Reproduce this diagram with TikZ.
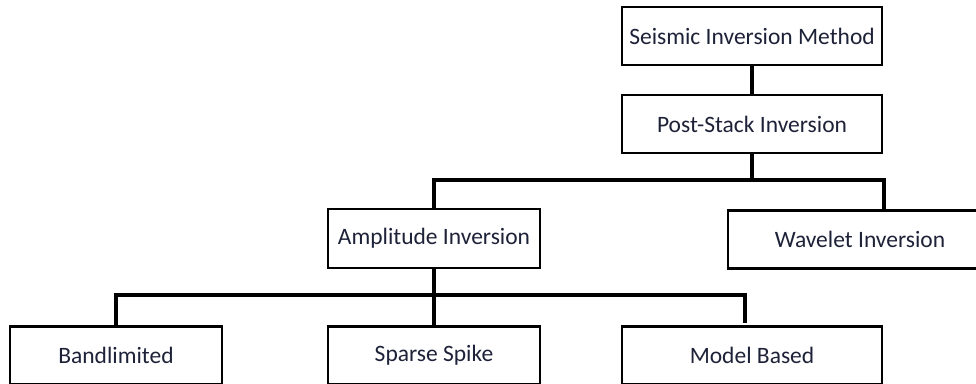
\documentclass[tikz,border=0pt]{standalone}
\usepackage{fontspec}
\setmainfont{Carlito}
\definecolor{labelink}{HTML}{1E2238}
\begin{document}
\begin{tikzpicture}[x=1pt,y=-1pt,
  box/.style={draw=black, line width=2.6pt, fill=white, rectangle,
    inner sep=0pt, font=\fontsize{23.5}{28}\selectfont, text=labelink},
  wide/.style={box, minimum width=260pt, minimum height=58pt},
  narrow/.style={box, minimum width=212pt, minimum height=59pt},
  link/.style={draw=black, line width=4pt}]
\useasboundingbox (0,0) rectangle (976,383);
\begin{scope}
\clip (0,0) rectangle (976,383);

% tree levels
\node[wide]   (sim)  at (752,36)    {Seismic Inversion Method};
\node[wide]   (psi)  at (752,124)   {Post-Stack Inversion};
\node[narrow] (amp)  at (434,238.5) {Amplitude Inversion};
\node[box, minimum width=264pt, minimum height=58pt] (wav) at (860,239.5) {Wavelet Inversion};
\node[narrow, minimum height=58pt] (band) at (116,355.5) {Bandlimited};
\node[narrow, minimum height=58pt] (spk)  at (434,355.5) {Sparse Spike};
\node[wide]   (mod)  at (752,355.5) {Model Based};

% junction points of the connectors
\coordinate (j1) at (752,180);
\coordinate (j2) at (434,295);
\coordinate (mb) at (745,323);

% connectors
\draw[link] (sim.south) -- (psi.north);
\draw[link] (psi.south) -- (j1);
\draw[link, line join=miter] (amp.north) |- (j1) -| (884,210);
\draw[link] (amp.south) -- (spk.north);
\draw[link] (band.north) |- (j2) -| (mb);
\end{scope}
\end{tikzpicture}
\end{document}
